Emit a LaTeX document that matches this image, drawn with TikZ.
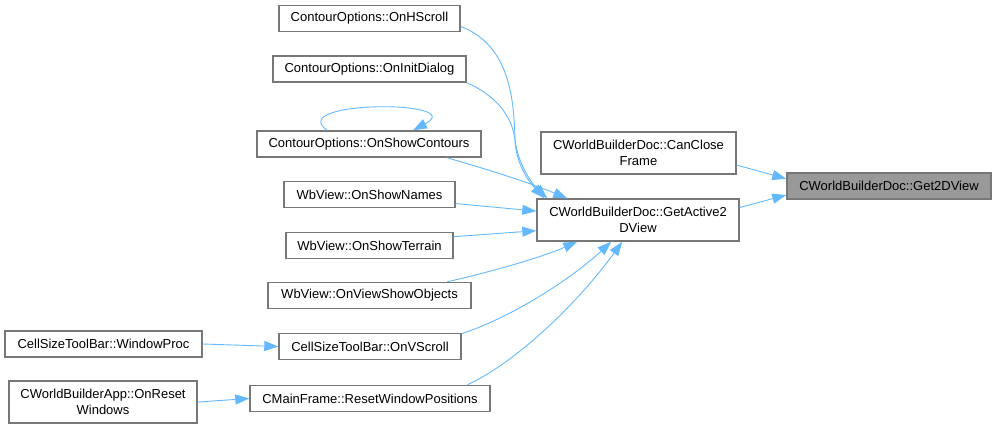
\documentclass[tikz,border=0pt]{standalone}
\usepackage{fontspec}
\setmainfont{Liberation Sans}
\usetikzlibrary{calc,arrows.meta}
\definecolor{edgeblue}{HTML}{63B8FF}
\definecolor{boxgray}{HTML}{777777}
\definecolor{hlgray}{HTML}{999999}

\begin{document}
\begin{tikzpicture}[x=1pt,y=-1pt,
    box/.style={draw=boxgray, line width=1.4pt, fill=white, inner sep=0pt,
      minimum height=26pt, align=center, font=\fontsize{13}{16}\selectfont},
    edge/.style={draw=edgeblue, line width=0.9pt, -{Triangle[length=14pt,width=10pt]}}]
    \useasboundingbox (0,0) rectangle (996,429);
    % callers of GetActive2DView
    \node[box, minimum width=181pt] (hscroll) at (369.5,18.5) {ContourOptions::OnHScroll};
    \node[box, minimum width=193pt] (initdlg) at (369.5,69) {ContourOptions::OnInitDialog};
    \node[box, minimum width=224pt] (showcont) at (369,144) {ContourOptions::OnShowContours};
    \node[box, minimum width=171pt] (names) at (369.5,194.5) {WbView::OnShowNames};
    \node[box, minimum width=167pt] (terrain) at (369.5,245.5) {WbView::OnShowTerrain};
    \node[box, minimum width=203pt] (objects) at (369.5,295.5) {WbView::OnViewShowObjects};
    \node[box, minimum width=182pt] (vscroll) at (370,346.5) {CellSizeToolBar::OnVScroll};
    \node[box, minimum width=240pt] (resetpos) at (370,398.5) {CMainFrame::ResetWindowPositions};
    % left column
    \node[box, minimum width=197pt] (winproc) at (103.5,344) {CellSizeToolBar::WindowProc};
    \node[box, minimum width=188pt, minimum height=42pt] (onreset) at (103,402) {CWorldBuilderApp::OnReset\\Windows};
    % middle and target
    \node[box, minimum width=195pt, minimum height=42pt] (canclose) at (638.5,153) {CWorldBuilderDoc::CanClose\\Frame};
    \node[box, minimum width=202pt, minimum height=42pt] (active) at (638,220) {CWorldBuilderDoc::GetActive2\\DView};
    \node[box, minimum width=204pt, fill=hlgray] (get2d) at (889,186) {CWorldBuilderDoc::Get2DView};

    \draw[edge] (hscroll.-5) .. controls (510,45) and (514,100) .. (515,140)
      .. controls (516,165) and (530,183) .. ($(active.north west)+(8,0)$);
    \draw[edge] (initdlg.south east) .. controls (495,95) and (512,115) .. (515,140)
      .. controls (518,165) and (533,185) .. ($(active.north west)+(11,0)$);
    \draw[edge] (showcont.-10) .. controls (490,170) and (530,183) .. ($(active.north west)+(31,0)$);
    \draw[edge] ($(showcont.north)+(-42,0)$) .. controls (285,100) and (470,100) .. ($(showcont.north)+(44,0)$);
    \draw[edge] (names.-6) -- (active.175);
    \draw[edge] (terrain.6) -- (active.186);
    \draw[edge] (objects.10.5) .. controls (490,272) and (540,258) .. ($(active.south west)+(41,0)$);
    \draw[edge] (vscroll.8.8) .. controls (510,318) and (570,280) .. ($(active.south west)+(75,0)$);
    \draw[edge] (resetpos.8.5) .. controls (520,360) and (580,300) .. ($(active.south west)+(86,0)$);
    \draw[edge] (winproc.east) -- (vscroll.west);
    \draw[edge] (onreset.east) -- (resetpos.west);
    \draw[edge] (canclose.-7.6) -- (get2d.176);
    \draw[edge] (active.7.3) -- (get2d.185.6);
\end{tikzpicture}
\end{document}
